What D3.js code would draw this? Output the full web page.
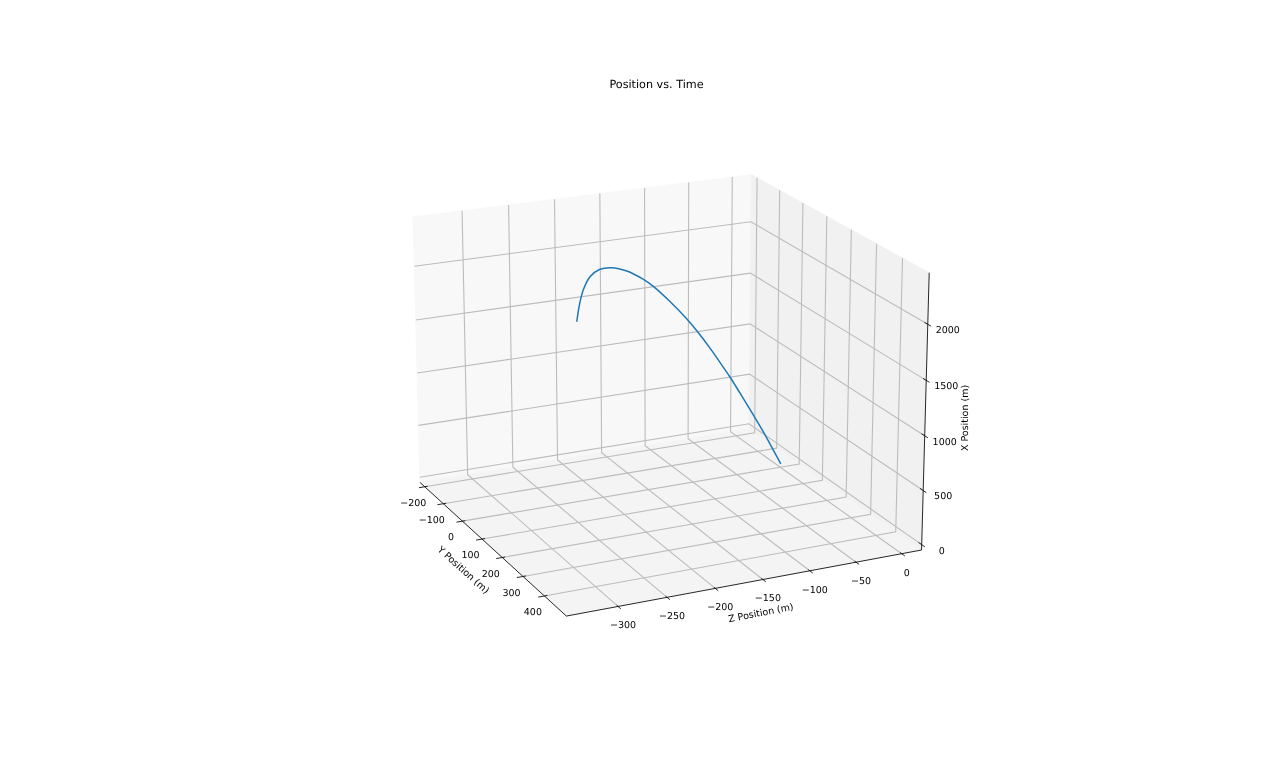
<!DOCTYPE html><html><head><meta charset="utf-8"><script src="https://cdn.jsdelivr.net/npm/d3@7"></script><style>body{margin:0;background:#fff}svg{display:block;filter:blur(0.3px)}text{font-family:"DejaVu Sans";fill:#000;text-rendering:geometricPrecision}</style></head><body><svg id="c" width="1280" height="772"></svg><script>
const yDomain=[-226,500],zDomain=[-352,22],xDomain=[-50,2455];
const yTicks=[-200,-100,0,100,200,300,400];
const zTicks=[-300,-250,-200,-150,-100,-50,0];
const xTicks=[0,500,1000,1500,2000];
const zPos=[0,-7,-15,-24,-36,-47,-57,-66,-81,-96,-118,-140,-155,-178,-200,-220,-240,-258,-274,-290];
const yPos=[2,-5,-20,-30,-44,-46,-52,-54,-55,-47,-33,-18,-2,21,46,79,121,169,222,281];
const xPos=[-14,121,289,449,658,824,969,1093,1281,1442,1651,1839,1944,2076,2165,2217,2228,2195,2152,2106];
const title="Position vs. Time",yLabel="Y Position (m)",zLabel="Z Position (m)",xLabel="X Position (m)";
// fitted perspective camera: unit cube -> page
const m=[91.30623,365.81917,-18.38391,419.98118,73.68085,-32.62501,-271.45682,482.43102,-0.09731,0.04908,-0.02762];
const U=d3.scaleLinear().domain(yDomain).range([0,1]),V=d3.scaleLinear().domain(zDomain).range([0,1]),W=d3.scaleLinear().domain(xDomain).range([0,1]);
const proj=(y,z,x)=>{const u=U(y),v=V(z),w=W(x),d=m[8]*u+m[9]*v+m[10]*w+1;return[(m[0]*u+m[1]*v+m[2]*w+m[3])/d,(m[4]*u+m[5]*v+m[6]*w+m[7])/d]};
const [y0,y1]=yDomain,[z0,z1]=zDomain,[x0,x1]=xDomain;
const svg=d3.select("#c");
const line=d3.line();
const poly=(c,f)=>svg.append("path").attr("d",line(c.map(p=>proj(...p)))+"Z").attr("fill",f).attr("stroke",f).attr("stroke-width",.8);
poly([[y0,z0,x0],[y0,z1,x0],[y0,z1,x1],[y0,z0,x1]],"#f8f8f8");
poly([[y0,z1,x0],[y1,z1,x0],[y1,z1,x1],[y0,z1,x1]],"#f1f1f1");
poly([[y0,z0,x0],[y1,z0,x0],[y1,z1,x0],[y0,z1,x0]],"#f4f4f4");
const grid=c=>svg.append("path").attr("d",line(c.map(p=>proj(...p)))).attr("fill","none").attr("stroke","#bcbcbc").attr("stroke-width",1.1);
yTicks.forEach(t=>grid([[t,z0,x0],[t,z1,x0],[t,z1,x1]]));
zTicks.forEach(t=>grid([[y1,t,x0],[y0,t,x0],[y0,t,x1]]));
xTicks.forEach(t=>grid([[y0,z0,t],[y0,z1,t],[y1,z1,t]]));
const ink=c=>svg.append("path").attr("d",line(c.map(p=>proj(...p)))).attr("fill","none").attr("stroke","#111").attr("stroke-width",.9);
ink([[y0,z0,x0],[y1,z0,x0]]);ink([[y1,z0,x0],[y1,z1,x0]]);ink([[y1,z1,x0],[y1,z1,x1]]);
const lab=(t,p,dx,dy)=>svg.append("text").attr("x",p[0]+dx).attr("y",p[1]+dy).attr("text-anchor","middle").attr("dominant-baseline","central").attr("font-size",9.5).text(t);
const fmt=d=>String(d).replace("-","\u2212");
const dz=(z1-z0)/60,dy=(y1-y0)/60;
yTicks.forEach(t=>{ink([[t,z0-dz,x0],[t,z0+dz/2,x0]]);lab(fmt(t),proj(t,z0,x0),-11.5,16.8)});
zTicks.forEach(t=>{ink([[y1+dy,t,x0],[y1-dy/2,t,x0]]);lab(fmt(t),proj(y1,t,x0),5,19.3)});
xTicks.forEach(t=>{ink([[y1+dy,z1,t],[y1-dy,z1,t]]);lab(fmt(t),proj(y1,z1,t),20,6.4)});
svg.append("path").attr("fill","none").attr("stroke","#1f77b4").attr("stroke-width",1.5).attr("d",d3.line().curve(d3.curveCatmullRom)(zPos.map((z,i)=>proj(yPos[i],z,xPos[i]))));
const tl=(t,x,y,r)=>svg.append("text").attr("transform",`translate(${x},${y}) rotate(${r})`).attr("text-anchor","middle").attr("dominant-baseline","central").attr("font-size",9.5).text(t);
tl(yLabel,463,570.5,42);tl(zLabel,761,613.5,-11);tl(xLabel,965.5,418,-90);
svg.append("text").attr("x",656.5).attr("y",84).attr("text-anchor","middle").attr("dominant-baseline","central").attr("font-size",11.2).text(title);
</script></body></html>
